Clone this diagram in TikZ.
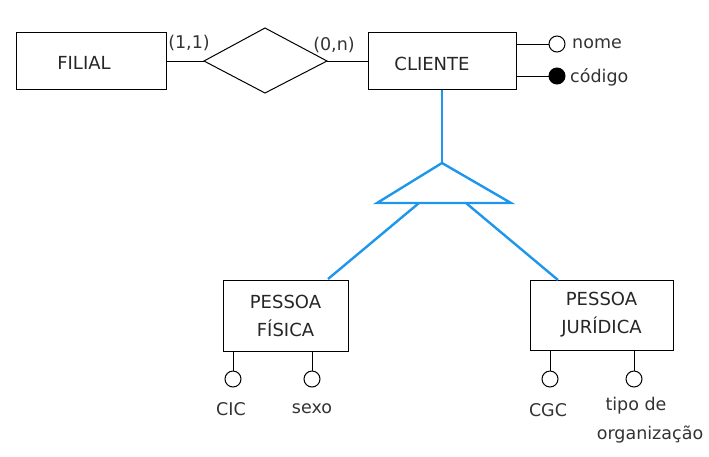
\documentclass[tikz,border=0pt]{standalone}
\usepackage{fontspec}
\setmainfont{DejaVu Sans}
\tikzset{
  ent/.style={draw, line width=1pt, minimum width=#1, inner sep=0pt, align=center, font=\fontsize{18}{28}\selectfont, text=black!85},
  entt/.style={inner sep=0pt, font=\fontsize{18}{28}\selectfont, text=black!85},
  ln/.style={line width=1pt},
  attr/.style={draw, circle, line width=1pt, minimum size=16pt, inner sep=0pt},
  lab/.style={font=\fontsize{17.5}{28}\selectfont, inner sep=0pt, text=black!80},
}
\begin{document}
\begin{tikzpicture}[x=1pt,y=-1pt]
\useasboundingbox (0,0) rectangle (709,456);
% entities
\node[ent=150pt, minimum height=57pt] (filial) at (91,60.5) {};
\node[ent=148pt, minimum height=57pt] (cliente) at (442,60.5) {};
\node[entt] (filialt) at (84,63) {FILIAL};
\node[entt] (clientet) at (432,64) {CLIENTE};
\node[ent=125pt, minimum height=71pt] (pf) at (285.5,315.5) {PESSOA\\FÍSICA};
\node[ent=143pt, minimum height=70pt] (pj) at (601.5,315) {PESSOA\\JURÍDICA};
% relationship
\coordinate (dl) at (204,61);
\coordinate (dt) at (265,28);
\coordinate (dr) at (327,61);
\coordinate (db) at (265,93);
\draw[ln] (dl) -- (dt) -- (dr) -- (db) -- cycle;
\draw[ln] (filial.east |- dl) -- (dl);
\draw[ln] (dr) -- (cliente.west |- dr);
\node[lab] (c11) at (189,43) {(1,1)};
\node[lab] (c0n) at (334,45) {(0,n)};
% cliente attributes
\node[attr] (nomec) at (557,44) {};
\node[attr, fill=black] (codc) at (557,76) {};
\draw[ln] (cliente.east |- nomec) -- (nomec);
\draw[ln] (cliente.east |- codc) -- (codc);
\node[lab, anchor=west] (nome) at (572,44) {nome};
\node[lab, anchor=west] (codigo) at (570,77) {código};
% specialization
\coordinate (apex) at (442,163);
\coordinate (bl) at (377,203);
\coordinate (br) at (511,203);
\coordinate (sl) at (419,203);
\coordinate (sr) at (466,203);
\begin{scope}[line width=2.4pt, draw={rgb,255:red,30;green,150;blue,235}, line join=miter]
\draw (cliente.south) -- (apex);
\draw (apex) -- (bl) -- (br) -- cycle;
\draw (sl) -- (328,279);
\draw (sr) -- (558,280);
\end{scope}
% pf attributes
\node[attr] (cic) at (233,379) {};
\node[attr] (sexo) at (312,379) {};
\draw[ln] (cic |- pf.south) -- (cic);
\draw[ln] (sexo |- pf.south) -- (sexo);
\node[lab] (cict) at (231,409) {CIC};
\node[lab] (sexot) at (312,409) {sexo};
% pj attributes
\node[attr] (cgc) at (550,379) {};
\node[attr] (tipo) at (634,379) {};
\draw[ln] (cgc |- pj.south) -- (cgc);
\draw[ln] (tipo |- pj.south) -- (tipo);
\node[lab] (cgct) at (548,410) {CGC};
\node[lab] (tipot1) at (636,406) {tipo de};
\node[lab] (tipot2) at (650,435) {organização};
\end{tikzpicture}
\end{document}
